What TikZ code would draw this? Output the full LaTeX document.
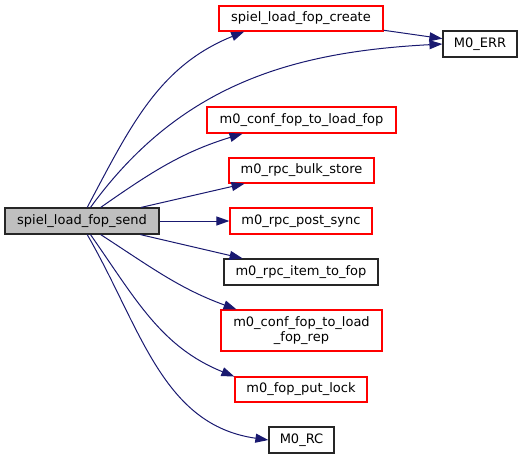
\documentclass[tikz,border=0pt]{standalone}
\usepackage{fontspec}
\setmainfont{DejaVu Sans}
\usetikzlibrary{arrows.meta}
\definecolor{edgeblue}{RGB}{25,25,112}
\definecolor{boxgrey}{RGB}{191,191,191}
\begin{document}
\begin{tikzpicture}[x=1pt,y=-1pt,
    every node/.style={font=\fontsize{13}{14.5}\selectfont,line width=1.2pt,minimum height=26pt,inner sep=0pt,align=center},
    fn/.style={draw=black!85},
    fnred/.style={draw=red},
    call/.style={draw=edgeblue,line width=1pt,-{Triangle[length=13pt,width=9pt]}}]
    \useasboundingbox (0,0) rectangle (525,459);
    \node[fn,fill=boxgrey,minimum width=154pt] (send) at (82,221) {spiel\_load\_fop\_send};
    \node[fnred,minimum width=164pt,minimum height=25pt] (create) at (301,18.5) {spiel\_load\_fop\_create};
    \node[fn,minimum width=74pt] (err) at (480,44) {M0\_ERR};
    \node[fnred,minimum width=189pt] (conffop) at (301.5,120) {m0\_conf\_fop\_to\_load\_fop};
    \node[fnred,minimum width=145pt,minimum height=25pt] (bulk) at (301.5,170.5) {m0\_rpc\_bulk\_store};
    \node[fnred,minimum width=142pt] (post) at (301,221) {m0\_rpc\_post\_sync};
    \node[fn,minimum width=154pt] (item) at (301,272) {m0\_rpc\_item\_to\_fop};
    \node[fnred,minimum width=161pt,minimum height=41pt] (confrep) at (301.5,330.5) {m0\_conf\_fop\_to\_load\\\_fop\_rep};
    \node[fnred,minimum width=132pt,minimum height=25pt] (putlock) at (301,389.5) {m0\_fop\_put\_lock};
    \node[fn,minimum width=65pt] (rc) at (301.5,440) {M0\_RC};
    \draw[call] (send.69) to[out=62,in=202] (create.193);
    \draw[call] (send.58) to[out=54,in=183] (err.west);
    \draw[call] (create) -- (err);
    \draw[call] (send.36) to[out=35,in=197] (conffop.193);
    \draw[call] (send) -- (bulk);
    \draw[call] (send) -- (post);
    \draw[call] (send) -- (item);
    \draw[call] (send.-36) to[out=-33,in=160] (confrep.162);
    \draw[call] (send.-58) to[out=-55,in=158] (putlock.169);
    \draw[call] (send.-69) to[out=-60,in=172] (rc.west);
\end{tikzpicture}
\end{document}
